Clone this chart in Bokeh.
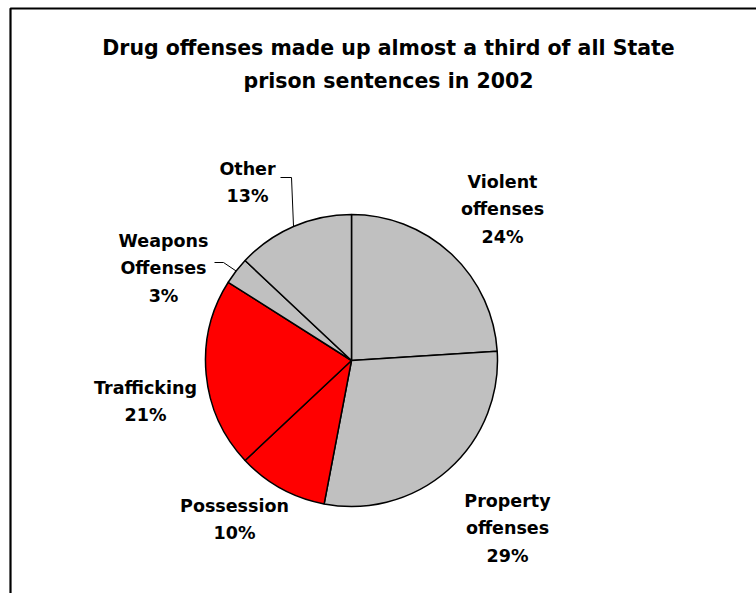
import math
from bokeh.plotting import figure
from bokeh.models import ColumnDataSource, Range1d, BoxAnnotation
from bokeh.core.properties import value
from bokeh.embed import file_html
from bokeh.resources import INLINE

# ---- data ----
title_lines = ["Drug offenses made up almost a third of all State",
               "prison sentences in 2002"]
categories = ["Violent offenses", "Property offenses", "Possession",
              "Trafficking", "Weapons Offenses", "Other"]
label_names = [["Violent", "offenses"], ["Property", "offenses"], ["Possession"],
               ["Trafficking"], ["Weapons", "Offenses"], ["Other"]]
shares = [24, 29, 10, 21, 3, 13]
drug_offense = [False, False, True, True, False, False]

# ---- layout (pixels) ----
W, H = 756, 593
GREY, RED = "#C0C0C0", "#FF0000"
CX, CY, R = 351, 360, 146
FONT = "DejaVu Sans"
label_pos = [(502, 181), (507, 500), (234, 505), (145, 387), (163, 240), (247, 168)]
LINE_STEP = 27.5
leader_start = {4: [(214, 262), (223, 262)], 5: [(280, 177), (291, 177)]}


def Y(py):
    return H - py


p = figure(width=W, height=H, output_backend="svg", toolbar_location=None,
           x_axis_type=None, y_axis_type=None,
           x_range=Range1d(0, W), y_range=Range1d(0, H))
p.min_border = 0
p.grid.visible = False
p.outline_line_color = None
p.background_fill_color = "white"
p.border_fill_color = "white"

# frame
p.add_layout(BoxAnnotation(left=10, right=W + 30, top=Y(8), bottom=-30,
                           fill_alpha=0, line_color="black", line_alpha=1.0,
                           line_width=2.2))

# wedges
total = float(sum(shares))
starts, ends, mids, cols = [], [], [], []
cum = 0.0
for s, d in zip(shares, drug_offense):
    a0 = math.pi / 2 - 2 * math.pi * cum / total
    a1 = math.pi / 2 - 2 * math.pi * (cum + s) / total
    starts.append(a0)
    ends.append(a1)
    mids.append((a0 + a1) / 2)
    cols.append(RED if d else GREY)
    cum += s

src = ColumnDataSource(dict(x=[CX] * len(shares), y=[Y(CY)] * len(shares),
                            start=starts, end=ends, color=cols, cat=categories))
p.wedge(x="x", y="y", radius=R, start_angle="start", end_angle="end",
        direction="clock", fill_color="color", line_color="black",
        line_width=1.5, source=src)

# labels
lx, ly, lt = [], [], []
for i, names in enumerate(label_names):
    x0, y0 = label_pos[i]
    lines = names + ["%d%%" % shares[i]]
    for k, t in enumerate(lines):
        lx.append(x0)
        ly.append(Y(y0 + k * LINE_STEP))
        lt.append(t)
p.text(x=lx, y=ly, text=lt, text_font=value(FONT), text_font_style="bold",
       text_font_size="17.5px", text_align="center", text_baseline="alphabetic",
       text_color="black")

# leader lines
xs, ys = [], []
for i, pts in leader_start.items():
    ex = CX + R * math.cos(mids[i])
    ey = Y(CY) + R * math.sin(mids[i])
    xs.append([pt[0] for pt in pts] + [ex])
    ys.append([Y(pt[1]) for pt in pts] + [ey])
p.multi_line(xs=xs, ys=ys, line_color="black", line_width=1)

# title
p.text(x=[388, 388], y=[Y(47), Y(80)], text=title_lines, text_font=value(FONT),
       text_font_style="bold", text_font_size="20.5px", text_align="center",
       text_baseline="alphabetic", text_color="black")

open("out.html", "w").write(file_html(p, INLINE))
